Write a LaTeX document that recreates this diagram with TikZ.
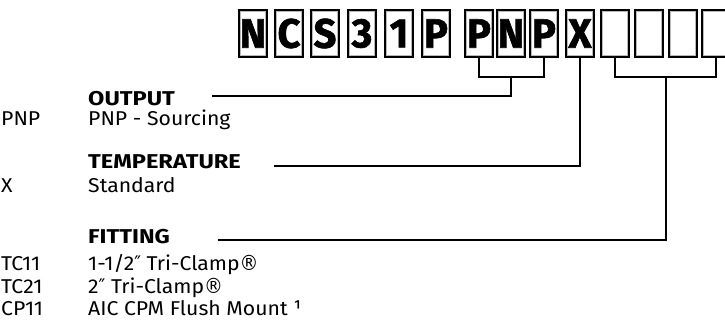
\documentclass[tikz,border=0pt]{standalone}
\usepackage{fontspec}
\setmainfont{Fira Sans}[FakeStretch=1.06]
\newfontfamily\headfont{Fira Sans}[FakeStretch=1.18]
\newfontfamily\boxfont{Fira Sans}[FakeStretch=0.97,FakeBold=1.5]
\newfontfamily\symfont{DejaVu Sans}[FakeStretch=0.9]
\usetikzlibrary{calc}
\tikzset{
  codebox/.style={draw=black, line width=2pt, minimum width=28pt, minimum height=47pt,
    inner sep=0pt, font=\boxfont\bfseries\fontsize{41}{41}\selectfont,
    path picture={\draw[gray!55, line width=0.8pt]
      ([shift={(1.7pt,-1.7pt)}]path picture bounding box.north west) rectangle
      ([shift={(-1.7pt,1.7pt)}]path picture bounding box.south east);}},
  txt/.style={anchor=base west, inner sep=0pt, font=\fontsize{20}{24}\selectfont},
  head/.style={txt, font=\headfont\bfseries\fontsize{20}{24}\selectfont},
  conn/.style={draw=black, line width=2pt, line join=miter}
}
\newcommand\dprime{{\symfont ″}}
\newcommand\regmark{{\symfont\fontsize{21}{24}\selectfont ®}}
\begin{document}
\begin{tikzpicture}[x=1pt,y=-1pt]
\useasboundingbox (0,0) rectangle (725,324);
\clip (0,0) rectangle (725,324);
% code boxes
\node[codebox] (b1) at (253,33.5) {N};
\node[codebox] (b2) at (289,33.5) {C};
\node[codebox] (b3) at (325,33.5) {S};
\node[codebox] (b4) at (362,33.5) {3};
\node[codebox] (b5) at (399,33.5) {1};
\node[codebox] (b6) at (436,33.5) {P};
\node[codebox] (b7) at (479,33.5) {P};
\node[codebox] (b8) at (511,33.5) {N};
\node[codebox] (b9) at (544,33.5) {P};
\node[codebox] (b10) at (580,33.5) {X};
\node[codebox] (b11) at (615,33.5) {};
\node[codebox] (b12) at (649,33.5) {};
\node[codebox] (b13) at (683,33.5) {};
\node[codebox] (b14) at (716,33.5) {};
% texts
\node[head] (hout) at (88,105) {OUTPUT};
\node[txt] (cpnp) at (1,125) {PNP};
\node[txt] (dpnp) at (88,125) {PNP - Sourcing};
\node[head] (htemp) at (88,168) {TEMPERATURE};
\node[txt] (cx) at (1,192) {X};
\node[txt] (dstd) at (88,192) {Standard};
\node[head] (hfit) at (88,243) {FITTING};
\node[txt] (ctc11) at (1,270) {TC11};
\node[txt] (dtc11) at (88,270) {1-1/2\dprime\ Tri-Clamp\regmark};
\node[txt] (ctc21) at (1,293) {TC21};
\node[txt] (dtc21) at (88,293) {2\dprime\ Tri-Clamp\regmark};
\node[txt] (ccp11) at (1,315) {CP11};
\node[txt] (dcp11) at (88,315) {AIC CPM Flush Mount ¹};
% connector start points
\coordinate (oL) at (212,96);
\coordinate (tL) at (274,166);
\coordinate (fL) at (218,240);
\coordinate (fm) at ($(b11.south)!0.5!(b14.south)$);
% connectors
\draw[conn] (b7.south) -- (b7.south |- 0,77) -- (b9.south |- 0,77) -- (b9.south);
\draw[conn] (b8.south |- 0,77) -- (b8.south |- 0,96) -- (oL);
\draw[conn] (b10.south) -- (b10.south |- tL) -- (tL);
\draw[conn] (b11.south) -- (b11.south |- 0,77) -- (b14.south |- 0,77) -- (b14.south);
\draw[conn] (fm |- 0,77) -- (fm |- fL) -- (fL);
\end{tikzpicture}
\end{document}
